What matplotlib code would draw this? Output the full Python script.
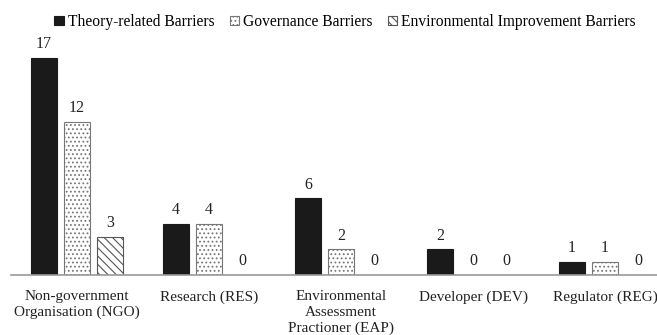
import numpy as np
import matplotlib.pyplot as plt
from matplotlib.patches import Patch

plt.rcParams['font.family'] = ['Liberation Serif', 'DejaVu Serif']
plt.rcParams['hatch.linewidth'] = 0.8

# Data
groups = ['Non-government\nOrganisation (NGO)', 'Research (RES)',
          'Environmental\nAssessment\nPractioner (EAP)', 'Developer (DEV)',
          'Regulator (REG)']
theory = [17, 4, 6, 2, 1]
governance = [12, 4, 2, 0, 1]
environmental = [3, 0, 0, 0, 0]
series_names = ['Theory-related Barriers', 'Governance Barriers',
                'Environmental Improvement Barriers']

x = np.arange(len(groups))
width = 0.197
step = 0.25

fig = plt.figure(figsize=(6.57, 3.35), dpi=100)
ax = fig.add_axes([11 / 657, 60 / 335, 1 - 11 / 657, 235 / 335])

styles = [
    dict(facecolor='#1a1a1a', edgecolor='#1a1a1a'),
    dict(facecolor='white', edgecolor='#777777', hatch='....'),
    dict(facecolor='white', edgecolor='#555555', hatch='\\\\\\\\'),
]

for i, (vals, st) in enumerate(zip([theory, governance, environmental], styles)):
    pos = x + (i - 1) * step
    ax.bar(pos, vals, width, linewidth=0.8, **st)
    for p, v in zip(pos, vals):
        ax.text(p, v + 0.45, str(v), ha='center', va='bottom', fontsize=11.5,
                color='#222222')

ax.set_xlim(-0.5, -0.5 + 646 / 132)
ax.set_ylim(0, 18.4)
ax.set_xticks(x)
ax.set_xticklabels(groups, fontsize=11, color='#222222', linespacing=1.25)
ax.tick_params(axis='x', length=0, pad=11)
ax.set_yticks([])
for s in ['top', 'left', 'right']:
    ax.spines[s].set_visible(False)
ax.spines['bottom'].set_color('#999999')
ax.spines['bottom'].set_linewidth(1.2)

handles = [Patch(**st, linewidth=0.8) for st in styles]
fig.legend(handles, series_names, loc='upper center', bbox_to_anchor=(0.525, 1.0),
           ncol=3, frameon=False, fontsize=11.2, handlelength=0.6,
           handleheight=0.6, handletextpad=0.25, columnspacing=1.0)

plt.savefig('out.png', dpi=100)
